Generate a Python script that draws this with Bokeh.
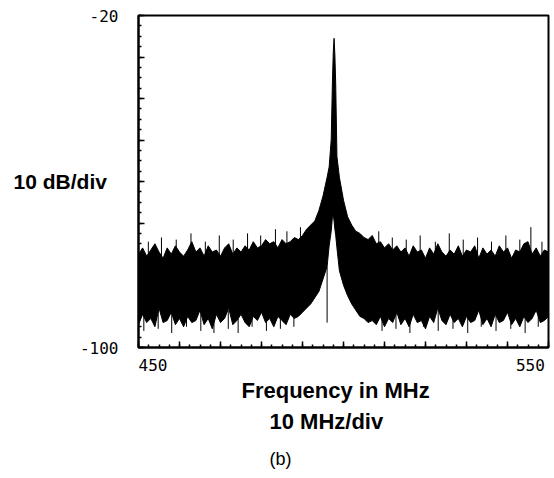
from bokeh.plotting import figure
from bokeh.models import FixedTicker, Range1d, Title
from bokeh.embed import file_html
from bokeh.resources import INLINE

# ---- data (frequency in MHz, level in dB) ----
freq = ([float(f) for f in range(450, 497)]
        + [496.5, 497.0, 497.3, 497.5, 497.7, 497.9, 498.1, 498.4, 499.0]
        + [float(f) for f in range(500, 551)])

upper = [
    -77.5, -76.0, -78.0, -76.5, -75.0, -77.0, -78.5, -76.0, -77.5, -75.5,
    -77.0, -78.0, -76.5, -74.5, -77.0, -76.0, -78.0, -75.5, -77.0, -76.5,
    -78.0, -76.0, -75.0, -77.5, -76.0, -77.0, -75.5, -76.5, -74.5, -76.0,
    -75.5, -74.0, -75.0, -74.5, -76.0, -74.0, -75.0, -74.5, -73.5, -74.0,
    -73.0, -71.5, -70.5, -69.5, -67.0, -63.5, -59.0,
    -56.5, -50.0, -36.0, -29.0, -25.5, -29.5, -36.5, -54.0, -59.0,
    -64.5, -68.5, -70.5, -72.0, -72.5, -73.5, -74.0,
    -73.0, -75.0, -74.5, -76.0, -75.0, -76.5, -75.5, -77.0, -76.0, -78.0,
    -75.5, -77.0, -76.5, -78.5, -76.0, -77.5, -75.0, -77.0, -78.0, -76.5,
    -77.5, -75.5, -78.0, -76.5, -77.0, -75.5, -78.5, -76.0, -77.5, -76.5,
    -78.0, -75.5, -77.0, -76.0, -78.5, -76.5, -77.0, -75.0, -74.5, -77.5,
    -76.0, -78.0, -76.5, -77.0,
]

lower = [
    -94.5, -92.0, -94.0, -93.0, -95.0, -90.5, -94.0, -93.5, -91.5, -94.5,
    -93.0, -95.0, -92.5, -94.0, -93.5, -91.0, -94.5, -93.0, -95.5, -92.0,
    -94.0, -93.0, -90.5, -94.5, -93.5, -92.0, -94.0, -95.0, -92.5, -93.5,
    -91.5, -94.0, -93.0, -95.0, -92.5, -93.5, -94.5, -92.0, -93.0, -92.5,
    -91.5, -90.5, -89.5, -88.0, -86.5, -83.5, -80.5,
    -75.5, -72.0, -68.5, -68.0, -69.5, -71.5, -73.0, -76.0, -81.5,
    -85.0, -87.5, -89.5, -91.0, -92.5, -93.0, -94.0,
    -93.5, -94.5, -92.5, -95.0, -93.0, -94.0, -91.5, -94.5, -93.0, -95.0,
    -92.0, -94.0, -93.5, -95.5, -92.5, -94.0, -90.5, -93.5, -94.5, -92.0,
    -94.0, -93.0, -95.0, -92.5, -94.0, -93.5, -91.0, -94.5, -93.0, -95.0,
    -92.0, -94.0, -93.5, -91.5, -94.5, -93.0, -95.0, -92.5, -94.0, -93.0,
    -91.0, -94.0, -93.5, -92.5,
]

# narrow spikes sticking out of the noise band
spike_freq = [
    452.4, 455.6, 459.2, 462.8, 466.3, 469.7, 473.1, 476.6, 479.8, 483.4,
    486.2, 489.5, 508.6, 511.9, 515.3, 518.7, 522.4, 525.8, 529.2, 532.7,
    536.1, 539.6, 543.0, 545.7, 548.4,
    451.3, 454.8, 458.1, 461.7, 465.2, 468.4, 471.9, 474.3, 477.7, 481.2,
    484.6, 487.9, 496.0, 509.4, 512.8, 516.2, 519.5, 523.1, 526.7, 530.3,
    533.6, 537.2, 540.8, 544.3, 547.5,
]
spike_top = [
    -74.5, -73.5, -74.0, -72.5, -74.5, -73.0, -74.0, -72.5, -73.0, -71.5,
    -72.0, -71.0, -72.0, -73.5, -74.0, -73.0, -74.5, -72.5, -74.0, -73.5,
    -74.5, -73.0, -74.0, -71.0, -74.5,
    -91.0, -91.0, -91.0, -91.0, -91.0, -91.0, -91.0, -91.0, -91.0, -91.0,
    -91.0, -91.0, -80.5, -91.0, -91.0, -91.0, -91.0, -91.0, -91.0, -91.0,
    -91.0, -91.0, -91.0, -91.0, -91.0,
]
spike_bottom = [
    -78.0, -78.0, -78.0, -78.0, -78.0, -78.0, -78.0, -78.0, -78.0, -78.0,
    -78.0, -78.0, -78.0, -78.0, -78.0, -78.0, -78.0, -78.0, -78.0, -78.0,
    -78.0, -78.0, -78.0, -78.0, -78.0,
    -96.0, -95.5, -96.5, -95.0, -96.0, -96.5, -95.5, -96.5, -95.0, -96.0,
    -95.5, -95.0, -94.0, -96.0, -95.5, -96.5, -95.0, -96.0, -95.5, -96.5,
    -95.0, -96.0, -95.5, -96.5, -95.0,
]

x_major = [450, 460, 470, 480, 490, 500, 510, 520, 530, 540, 550]
x_minor = [450 + 2.5 * i for i in range(41)]
y_major = [-100, -90, -80, -70, -60, -50, -40, -30, -20]
y_minor = [-100 + 2.5 * i for i in range(33)]
y_tick_labels = {-20: "-20", -100: "-100"}
x_tick_labels = {450: "\u00a0\u00a0\u00a0450", 550: "550\u00a0"}

assert len(freq) == len(upper) == len(lower)
assert len(spike_freq) == len(spike_top) == len(spike_bottom)

p = figure(width=554, height=478, output_backend="svg", toolbar_location=None,
           x_range=Range1d(450, 550), y_range=Range1d(-100, -20),
           min_border_left=138, min_border_right=6, min_border_top=15,
           min_border_bottom=131)
p.background_fill_color = "white"
p.border_fill_color = "white"
p.outline_line_color = "black"
p.outline_line_width = 2
p.xgrid.visible = False
p.ygrid.visible = False

p.varea(x=freq, y1=lower, y2=upper, fill_color="black")
p.line(x=freq, y=upper, line_color="black", line_width=1)
p.line(x=freq, y=lower, line_color="black", line_width=1)
p.segment(x0=spike_freq, y0=spike_bottom, x1=spike_freq, y1=spike_top,
          line_color="black", line_width=1)

mono = "DejaVu Sans Mono"
sans = "Liberation Sans"
for ax in (p.xaxis[0], p.yaxis[0]):
    ax.axis_line_color = "black"
    ax.axis_line_width = 2
    ax.major_tick_in = 6
    ax.major_tick_out = 0
    ax.minor_tick_in = 3
    ax.minor_tick_out = 0
    ax.major_tick_line_color = "black"
    ax.minor_tick_line_color = "black"
    ax.major_tick_line_width = 1.5
    ax.minor_tick_line_width = 1.5
    ax.major_label_text_font = mono
    ax.major_label_text_font_size = "16px"
    ax.major_label_text_color = "black"

p.xaxis.ticker = FixedTicker(ticks=x_major, minor_ticks=x_minor)
p.yaxis.ticker = FixedTicker(ticks=y_major, minor_ticks=y_minor)
p.xaxis.major_label_overrides = {t: x_tick_labels.get(t, "") for t in x_major}
p.yaxis.major_label_overrides = {t: y_tick_labels.get(t, "") for t in y_major}
p.xaxis.major_label_standoff = 8
p.yaxis.major_label_standoff = 20

p.yaxis.axis_label = "10 dB/div"
p.yaxis.axis_label_orientation = "horizontal"
p.yaxis.axis_label_standoff = -30
p.yaxis.axis_label_text_font = sans
p.yaxis.axis_label_text_font_style = "bold"
p.yaxis.axis_label_text_font_size = "21px"
p.yaxis.axis_label_text_color = "black"

p.add_layout(Title(text="Frequency in MHz", align="left", offset=103, standoff=-3,
                   text_font=sans, text_font_style="bold", text_font_size="22px",
                   text_color="black"), "below")
p.add_layout(Title(text="10 MHz/div", align="left", offset=131, standoff=10,
                   text_font=sans, text_font_style="bold", text_font_size="22px",
                   text_color="black"), "below")
p.add_layout(Title(text="(b)", align="left", offset=131, standoff=17,
                   text_font=sans, text_font_style="normal", text_font_size="18px",
                   text_color="black"), "below")

open("out.html", "w").write(file_html(p, INLINE))
